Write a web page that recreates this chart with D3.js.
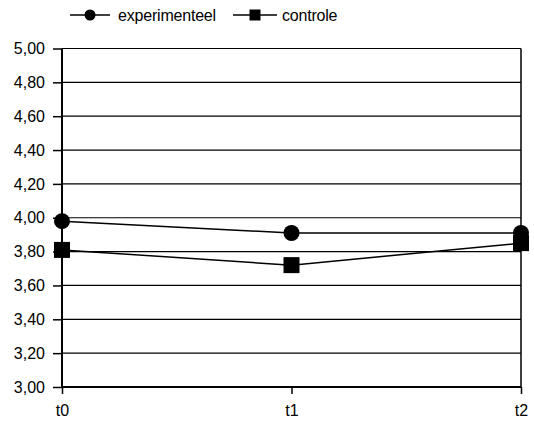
<!DOCTYPE html>
<html>
<head>
<meta charset="utf-8">
<script src="https://cdn.jsdelivr.net/npm/d3@7"></script>
<style>
  html, body { margin: 0; padding: 0; background: #fff; }
  svg { display: block; font-family: "Liberation Sans", Arial, sans-serif; }
</style>
</head>
<body>
<svg id="chart" width="534" height="430"></svg>
<script>
const categories = ["t0", "t1", "t2"];
const seriesNames = ["experimenteel", "controle"];
const experimenteel = [3.98, 3.91, 3.91];
const controle = [3.81, 3.72, 3.85];
const yTicks = [3.0, 3.2, 3.4, 3.6, 3.8, 4.0, 4.2, 4.4, 4.6, 4.8, 5.0];

const svg = d3.select("#chart");
const plotLeft = 62, plotRight = 521, plotTop = 48.5, plotBottom = 387;

const x = d3.scalePoint().domain(categories).range([plotLeft, plotRight]);
const y = d3.scaleLinear().domain([3, 5]).range([plotBottom, plotTop]);
const fmt = v => d3.format(".2f")(v).replace(".", ",");

// gridlines
svg.append("g").selectAll("line").data(yTicks.filter(v => v > 3)).join("line")
  .attr("x1", plotLeft).attr("x2", plotRight)
  .attr("y1", d => y(d)).attr("y2", d => y(d))
  .attr("stroke", "#000").attr("stroke-width", 1.2);

// right border
svg.append("line").attr("x1", plotRight).attr("x2", plotRight).attr("y1", plotTop).attr("y2", plotBottom)
  .attr("stroke", "#000").attr("stroke-width", 1.5);

// y axis
const yAxis = d3.axisLeft(y).tickValues(yTicks).tickFormat(fmt).tickSize(9).tickPadding(8);
const gy = svg.append("g").attr("transform", `translate(${plotLeft},0)`).call(yAxis);
gy.select(".domain").attr("stroke", "#000").attr("stroke-width", 2).attr("d", `M0,${plotTop}V${plotBottom}`);
gy.selectAll(".tick line").attr("stroke", "#000").attr("stroke-width", 1.5);
gy.selectAll(".tick text").attr("font-size", 16).attr("fill", "#000")
  .attr("font-family", '"Liberation Sans", Arial, sans-serif');

// x axis
const xAxis = d3.axisBottom(x).tickSize(7).tickPadding(11);
const gx = svg.append("g").attr("transform", `translate(0,${plotBottom})`).call(xAxis);
gx.select(".domain").attr("stroke", "#000").attr("stroke-width", 2).attr("d", `M${plotLeft},0H${plotRight}`);
gx.selectAll(".tick line").attr("stroke", "#000").attr("stroke-width", 1.5);
gx.selectAll(".tick text").attr("font-size", 16).attr("fill", "#000")
  .attr("font-family", '"Liberation Sans", Arial, sans-serif');

const line = d3.line().x((d, i) => x(categories[i])).y(d => y(d));

// series lines
[experimenteel, controle].forEach(vals => {
  svg.append("path").datum(vals).attr("d", line)
    .attr("fill", "none").attr("stroke", "#000").attr("stroke-width", 1.5);
});

// markers
svg.append("g").selectAll("circle").data(experimenteel).join("circle")
  .attr("cx", (d, i) => x(categories[i])).attr("cy", d => y(d)).attr("r", 8).attr("fill", "#000");
svg.append("g").selectAll("rect").data(controle).join("rect")
  .attr("x", (d, i) => x(categories[i]) - 8).attr("y", d => y(d) - 8)
  .attr("width", 16).attr("height", 16).attr("fill", "#000");

// legend
const legY = 15;
const leg = [
  {name: seriesNames[0], x0: 70, x1: 110, tx: 118, shape: "circle"},
  {name: seriesNames[1], x0: 233, x1: 277, tx: 282, shape: "square"}
];
leg.forEach(l => {
  svg.append("line").attr("x1", l.x0).attr("x2", l.x1).attr("y1", legY).attr("y2", legY)
    .attr("stroke", "#000").attr("stroke-width", 1.5);
  const cx = (l.x0 + l.x1) / 2;
  if (l.shape === "circle") {
    svg.append("circle").attr("cx", cx).attr("cy", legY).attr("r", 5.5).attr("fill", "#000");
  } else {
    svg.append("rect").attr("x", cx - 5.5).attr("y", legY - 5.5).attr("width", 11).attr("height", 11).attr("fill", "#000");
  }
  svg.append("text").attr("x", l.tx).attr("y", legY + 6).attr("font-size", 16)
    .attr("letter-spacing", -0.2).attr("fill", "#000").text(l.name);
});
</script>
</body>
</html>
